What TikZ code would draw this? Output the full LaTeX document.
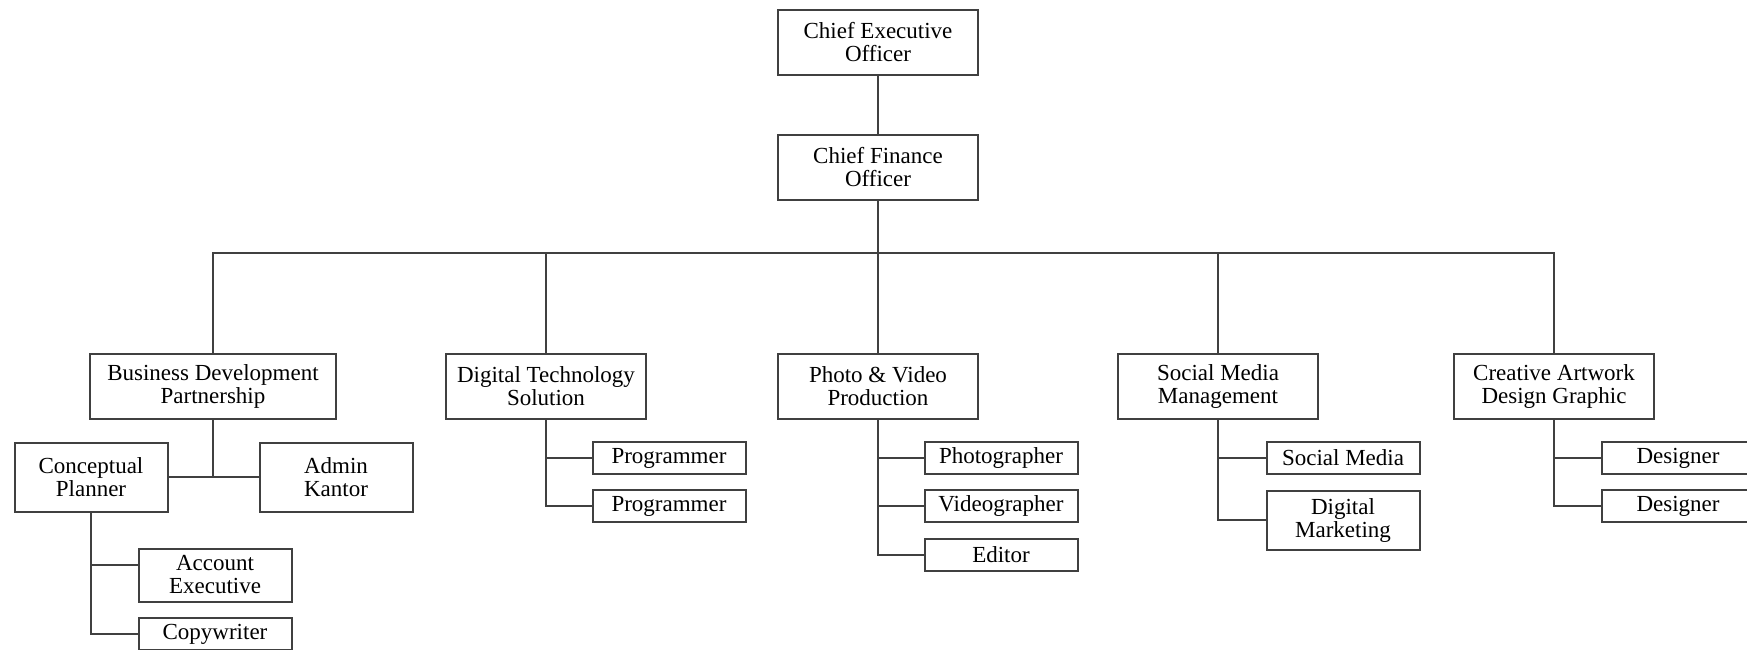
\documentclass[tikz,border=0pt]{standalone}
\usepackage{fontspec}
\setmainfont{Liberation Serif}

\begin{document}
\begin{tikzpicture}[x=1pt, y=-1pt,
        every node/.style={font=\fontsize{23}{23}\selectfont, align=center, inner sep=0pt},
        box/.style={draw=black!75, line width=2pt},
        head/.style={box, minimum width=200pt, minimum height=65pt},
        sub/.style={box, minimum width=153pt, minimum height=32pt},
        link/.style={draw=black!75, line width=2pt}]
  \useasboundingbox (0,0) rectangle (1747,649);

  \node[head] (ceo) at (878,42) {Chief Executive\\Officer};
  \node[head] (cfo) at (878,167) {Chief Finance\\Officer};
  \coordinate (bus) at (878,253);

  \node[head, minimum width=246pt] (bisdev) at (213,386) {Business Development\\Partnership};
  \node[head] (digtech) at (546,386) {Digital Technology\\Solution};
  \node[head] (photovid) at (878,386) {Photo \& Video\\Production};
  \node[head] (socmed) at (1218,386) {Social Media\\Management};
  \node[head] (creative) at (1554,386) {Creative Artwork\\Design Graphic};

  \node[sub, minimum height=69pt] (concept) at (91,477) {Conceptual\\Planner};
  \node[sub, minimum height=69pt] (admin) at (336,477) {Admin\\Kantor};
  \node[sub, minimum height=53pt] (account) at (215,575) {Account\\Executive};
  \node[sub] (copy) at (215,634) {Copywriter};

  \node[sub] (prog1) at (669,458) {Programmer};
  \node[sub] (prog2) at (669,506) {Programmer};

  \node[sub] (photog) at (1001,458) {Photographer};
  \node[sub] (videog) at (1001,506) {Videographer};
  \node[sub] (editor) at (1001,555) {Editor};

  \node[sub] (socmedia) at (1343,458) {Social Media};
  \node[sub, minimum height=59pt] (digmark) at (1343,520) {Digital\\Marketing};

  \node[sub] (design1) at (1678,458) {Designer};
  \node[sub] (design2) at (1678,506) {Designer};

  % top of the chart
  \draw[link] (ceo) -- (cfo);
  \draw[link] (cfo) -- (bus);
  \draw[link] (bisdev.north) -- (bisdev.north |- bus) -- (creative.north |- bus) -- (creative.north);
  \foreach \n in {digtech, photovid, socmed}
    \draw[link] (\n.north) -- (\n.north |- bus);

  % business development
  \draw[link] (bisdev.south) -- (bisdev.south |- concept.east);
  \draw[link] (concept.east) -- (admin.west);
  \draw[link] (concept.south) |- (copy.west);
  \draw[link] (concept.south |- account.west) ++(0,-10) -- ([yshift=10pt]account.west);

  % the other divisions
  \draw[link] (digtech.south) |- (prog2.west);
  \draw[link] (digtech.south |- prog1.west) -- (prog1.west);
  \draw[link] (photovid.south) |- (editor.west);
  \foreach \n in {photog, videog}
    \draw[link] (photovid.south |- \n.west) -- (\n.west);
  \draw[link] (socmed.south) |- (digmark.west);
  \draw[link] (socmed.south |- socmedia.west) -- (socmedia.west);
  \draw[link] (creative.south) |- (design2.west);
  \draw[link] (creative.south |- design1.west) -- (design1.west);
\end{tikzpicture}
\end{document}
